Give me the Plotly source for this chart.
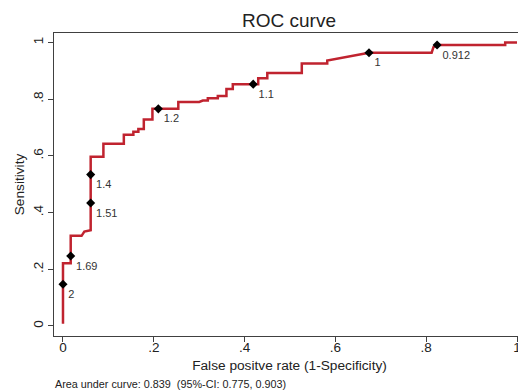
import plotly.graph_objects as go

# ROC curve vertices (1-specificity, sensitivity)
fpr = [0, 0, 0, 0.017, 0.017, 0.017, 0.041, 0.047, 0.061, 0.061, 0.061, 0.061,
       0.089, 0.089, 0.134, 0.134, 0.155, 0.155, 0.166, 0.166, 0.178, 0.178,
       0.197, 0.197, 0.21, 0.254, 0.254, 0.30, 0.308, 0.319, 0.319, 0.341,
       0.341, 0.36, 0.36, 0.374, 0.374, 0.419, 0.43, 0.43, 0.45, 0.45, 0.526,
       0.526, 0.582, 0.582, 0.674, 0.812, 0.816, 0.824, 0.974, 0.974, 1.0]
tpr = [0.008, 0.147, 0.221, 0.221, 0.247, 0.318, 0.318, 0.333, 0.338, 0.434,
       0.534, 0.597, 0.597, 0.643, 0.643, 0.675, 0.675, 0.685, 0.685, 0.695,
       0.695, 0.728, 0.728, 0.766, 0.766, 0.766, 0.79, 0.79, 0.795, 0.795,
       0.803, 0.803, 0.811, 0.811, 0.836, 0.836, 0.853, 0.853, 0.853, 0.874,
       0.874, 0.892, 0.892, 0.926, 0.926, 0.936, 0.964, 0.964, 0.984, 0.991,
       0.991, 1.0, 1.0]

# Labelled cut-points
cut_fpr = [0, 0.017, 0.061, 0.061, 0.21, 0.419, 0.674, 0.824]
cut_tpr = [0.147, 0.247, 0.434, 0.534, 0.766, 0.853, 0.964, 0.991]
cut_labels = ["2", "1.69", "1.51", "1.4", "1.2", "1.1", "1", "0.912"]

tick_vals = [0, 0.2, 0.4, 0.6, 0.8, 1]
tick_text = ["0", ".2", ".4", ".6", ".8", "1"]

FONT = "Liberation Sans, Arial, sans-serif"
FRAME = "#404040"

fig = go.Figure()
fig.add_trace(go.Scatter(
    x=fpr, y=tpr, mode="lines",
    line=dict(color="#c0232f", width=2.5),
    hoverinfo="skip", showlegend=False,
))
fig.add_trace(go.Scatter(
    x=cut_fpr, y=cut_tpr, mode="markers+text",
    marker=dict(symbol="diamond", size=7, color="black"),
    text=cut_labels, textposition="bottom right",
    textfont=dict(family=FONT, size=11, color="#333333"),
    showlegend=False,
))

# page body has an 8px margin, so the figure is sized to fit the 526x392 window
fig.update_layout(
    width=518, height=384,
    margin=dict(l=46, r=1, t=25, b=56, autoexpand=False),
    paper_bgcolor="white", plot_bgcolor="white",
    font=dict(family=FONT, color="#222222"),
    title=dict(text="ROC curve", x=0.5425, xanchor="center", y=0.969, yanchor="middle",
               font=dict(size=19, family=FONT, color="#222222")),
    xaxis=dict(
        range=[-0.0198, 1.0176], tickvals=tick_vals, ticktext=tick_text,
        showgrid=False, zeroline=False, showline=True, mirror=True,
        linecolor=FRAME, linewidth=1, ticks="outside", ticklen=5,
        tickcolor=FRAME, tickfont=dict(size=13.5, family=FONT, color="#222222"),
        automargin=False, ticklabelstandoff=-6,
        title=dict(text="False positve rate (1-Specificity)", standoff=6,
                   font=dict(size=13.7, family=FONT, color="#222222")),
    ),
    yaxis=dict(
        range=[-0.0353, 1.0335], tickvals=tick_vals, ticktext=tick_text,
        showgrid=False, zeroline=False, showline=True, mirror=True,
        linecolor=FRAME, linewidth=1, ticks="outside", ticklen=5,
        tickcolor=FRAME, tickangle=-90, automargin=False,
        tickfont=dict(size=13.5, family=FONT, color="#222222"),
        title=dict(text="Sensitivity", standoff=2,
                   font=dict(size=13.7, family=FONT, color="#222222")),
    ),
    annotations=[dict(
        text="Area under curve: 0.839  (95%-CI: 0.775, 0.903)",
        xref="paper", yref="paper", x=-0.002, y=-0.158,
        xanchor="left", yanchor="middle", showarrow=False,
        font=dict(size=10.8, family=FONT, color="#222222"),
    )],
)

fig.write_html("out.html")
